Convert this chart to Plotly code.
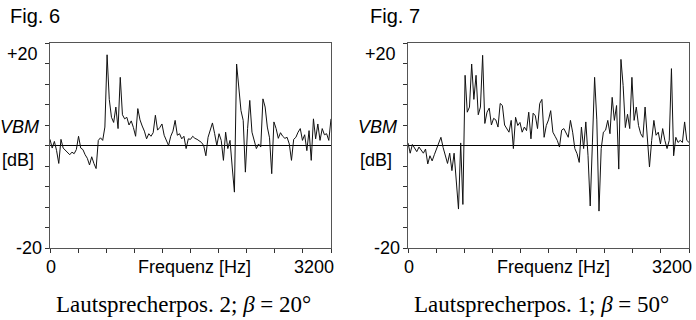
import plotly.graph_objects as go

# ---------------- data ----------------
freq_step_hz = 25
fig6_db = [
    1.2, -0.5, 0.8, -1.0, -3.5, 1.2, -0.5, -1.0, -1.5, -1.8,
    -1.3, -1.6, -0.8, 1.8, -0.5, -0.8, -1.8, -2.5, -3.8, -2.2,
    -3.5, -4.5, 1.0, 1.5, 1.0, 3.6, 17.7, 9.0, 5.5, 4.5,
    7.5, 3.3, 13.3, 6.0, 5.2, 5.5, 4.0, 4.8, 3.5, 1.8,
    7.2, 5.0, 3.8, 2.8, 1.3, 2.3, 1.8, 2.5, 5.9, 3.0,
    3.5, 4.2, 2.0, 1.0, 0.0, 1.8, 2.8, 4.9, 2.0, 2.3,
    1.3, 1.8, -0.6, 1.3, 1.2, 1.8, 1.4, 1.2, 0.9, 0.6,
    0.0, -2.0, 1.6, 2.9, 4.4, 2.3, 0.0, 2.3, 1.0, -2.9,
    2.6, -0.6, 1.0, -4.2, -9.1, 15.9, 10.5, 6.8, 4.9, -5.2,
    3.3, 8.8, 2.6, 1.0, -0.6, 0.3, -0.3, 9.1, 7.5, 3.6,
    1.5, -5.5, 4.6, 3.3, 1.4, 2.5, 1.8, 1.4, 1.6, 0.3,
    -2.9, 1.2, 1.6, 2.6, 3.3, 1.0, 2.1, -1.0, 2.9, -2.9,
    5.2, 1.3, 4.2, 1.0, 3.3, 2.1, 2.3, 1.0, 5.2,
]
fig7_db = [
    0.5, -1.5, 0.2, -0.5, -1.2, -0.3, -1.0, -1.5, -0.7, -3.6,
    -2.0, -3.0, -1.8, -0.6, 0.3, 1.6, -0.4, -2.0, -3.5, -1.5,
    -4.9, -1.5, -7.0, -12.4, 0.5, -11.5, 13.7, 6.5, 7.5, 15.9,
    9.0, 13.7, 6.0, 7.5, 17.6, 4.3, 6.5, 7.3, 4.0, 5.3,
    5.0, 3.6, 8.2, 7.8, 4.0, 3.3, 2.6, 4.9, -0.6, 5.5,
    3.9, 4.5, 2.6, 3.6, 2.9, 6.5, 1.3, 6.3, 5.8, 3.3,
    8.2, 9.0, 1.6, 3.9, 5.0, 6.8, 2.6, 1.8, 1.0, -0.3,
    3.0, 3.3, 2.3, 1.6, 4.9, 2.6, -0.6, -1.6, -3.3, 3.6,
    -0.6, 4.6, -2.0, -11.8, 0.5, 13.3, 5.0, -12.8, -0.6, 2.6,
    3.0, 4.9, 2.3, 9.4, 4.9, 7.8, -4.6, 16.8, 11.7, 3.5,
    6.1, 3.3, 13.3, 4.9, 7.5, 3.9, 2.3, 1.6, 7.5, 2.0,
    -4.2, 1.0, 4.9, 2.0, 2.6, 0.3, 3.3, 1.0, -0.6, 1.0,
    15.0, -2.0, 1.6, 0.6, 1.0, 0.6, 4.6, 1.0, 0.6,
]
freq_hz = [i * freq_step_hz for i in range(len(fig6_db))]

fig_titles = ["Fig. 6", "Fig. 7"]
captions = ["Lautsprecherpos. 2; <i>β</i> = 20°", "Lautsprecherpos. 1; <i>β</i> = 50°"]
x_label = "Frequenz [Hz]"
x_tick_labels = ["0", "3200"]
y_tick_labels = ["+20", "-20"]
y_label_top = "VBM"
y_label_bottom = "[dB]"

# ---------------- layout helpers ----------------
W, H = 696, 320
def px(x):
    return x / W
def py(y):
    return 1 - y / H

SANS = "Liberation Sans, Arial, sans-serif"
SERIF = "Liberation Serif, Times New Roman, serif"

fig = go.Figure()
fig.add_trace(go.Scatter(x=freq_hz, y=fig6_db, mode="lines",
                         line=dict(color="#111111", width=1), xaxis="x", yaxis="y",
                         showlegend=False, hoverinfo="skip"))
fig.add_trace(go.Scatter(x=freq_hz, y=fig7_db, mode="lines",
                         line=dict(color="#111111", width=1), xaxis="x2", yaxis="y2",
                         showlegend=False, hoverinfo="skip"))

panels = [(50, 331), (408, 689)]
top, bottom = 43, 248

xaxis_common = dict(range=[0, 3200], tick0=0, dtick=320, ticks="outside", ticklen=4,
                    tickcolor="#333", tickwidth=1, showticklabels=False, showgrid=False,
                    zeroline=False, showline=True, mirror=True, linecolor="#555", linewidth=1,
                    fixedrange=True)
yaxis_common = dict(range=[-20, 20], tick0=-20, dtick=4, ticks="outside", ticklen=4,
                    tickcolor="#333", tickwidth=1, showticklabels=False, showgrid=False,
                    zeroline=True, zerolinecolor="#000", zerolinewidth=1.5,
                    showline=True, mirror=True, linecolor="#555", linewidth=1,
                    fixedrange=True)

fig.update_layout(
    width=W, height=H, margin=dict(l=0, r=0, t=0, b=0),
    paper_bgcolor="white", plot_bgcolor="white",
    xaxis=dict(domain=[px(panels[0][0]), px(panels[0][1])], anchor="y", **xaxis_common),
    yaxis=dict(domain=[py(bottom), py(top)], anchor="x", **yaxis_common),
    xaxis2=dict(domain=[px(panels[1][0]), px(panels[1][1])], anchor="y2", **xaxis_common),
    yaxis2=dict(domain=[py(bottom), py(top)], anchor="x2", **yaxis_common),
)

ann = []
def add(text, x, y, xanchor="center", size=18, family=SANS, italic=False):
    if italic:
        text = "<i>" + text + "</i>"
    ann.append(dict(text=text, x=px(x), y=py(y), xref="paper", yref="paper",
                    xanchor=xanchor, yanchor="middle", showarrow=False,
                    font=dict(family=family, size=size, color="#000")))

for k, (x0, x1) in enumerate(panels):
    add(fig_titles[k], x0 - 42 if k == 0 else x0 - 40, 15.5, xanchor="left", size=20)
    add(y_tick_labels[0], x0 - 10, 53.5, xanchor="right")
    add(y_label_top, x0 - 9, 127, xanchor="right", italic=True)
    add(y_label_bottom, x0 - 14, 160, xanchor="right")
    add(y_tick_labels[1], x0 - 6, 248, xanchor="right")
    add(x_tick_labels[0], x0 + 1, 267)
    add(x_tick_labels[1], x1 + 5, 267, xanchor="right")
    add(x_label, x0 + 145, 267)
    add(captions[k], x0 + 133, 304, size=23, family=SERIF)

fig.update_layout(annotations=ann)
fig.write_html("out.html", config={"displayModeBar": False, "staticPlot": True},
               post_script="document.body.style.margin='0';document.body.style.overflow='hidden';")
